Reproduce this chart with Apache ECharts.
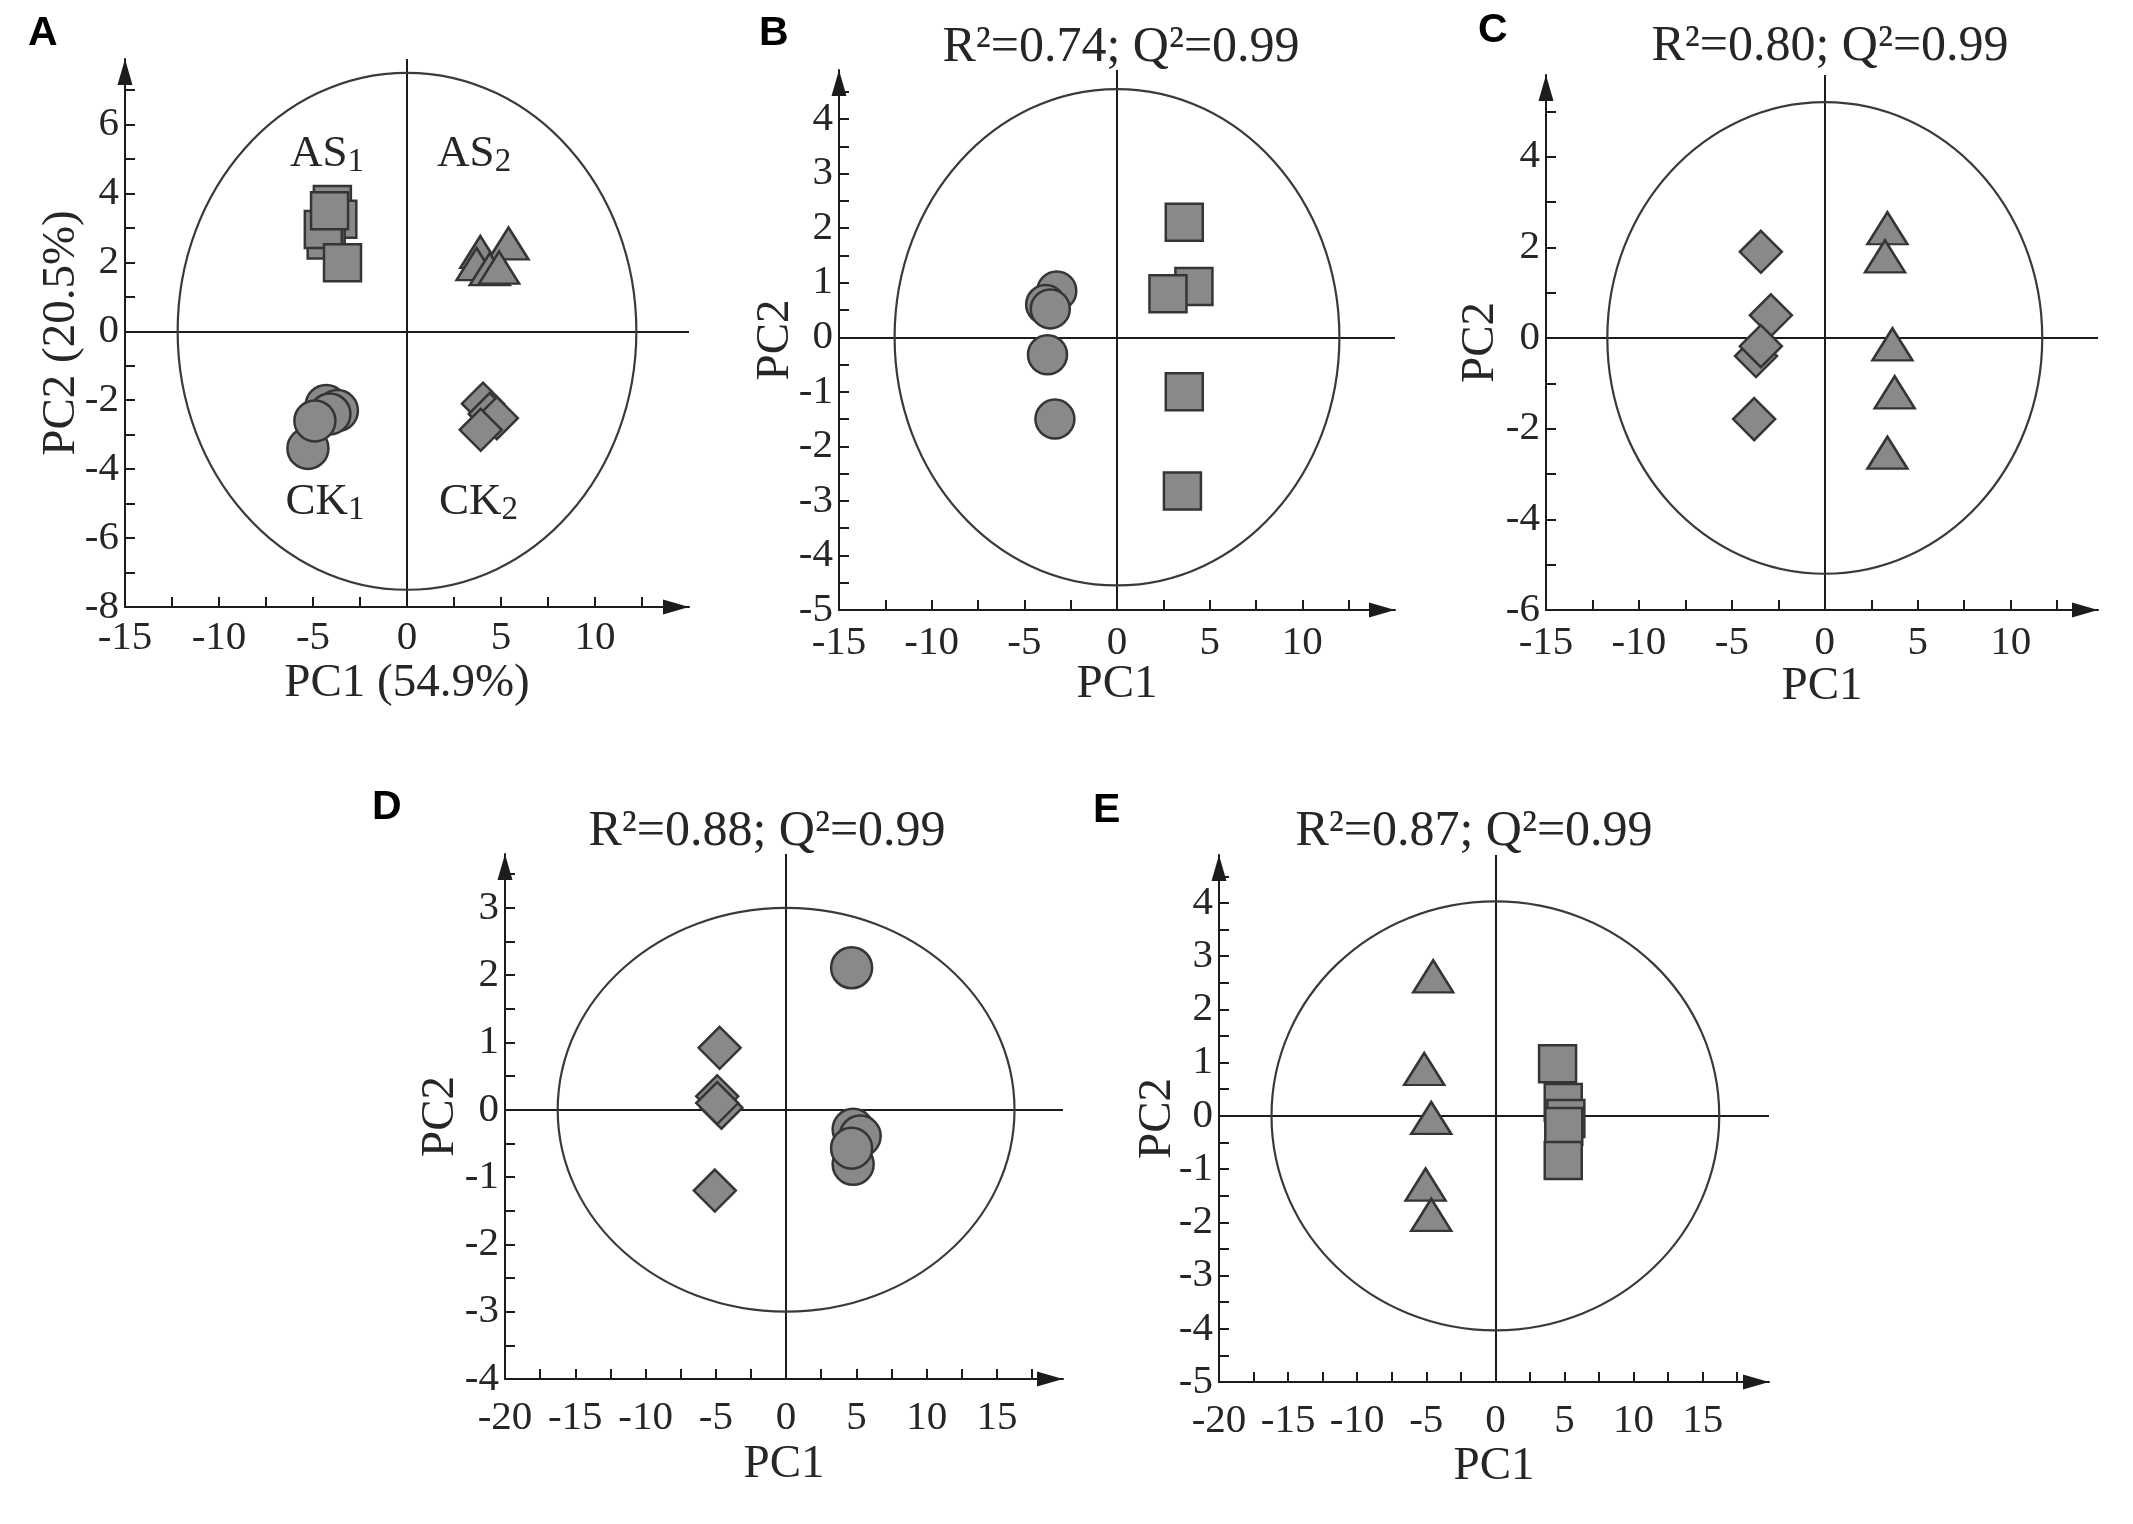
<!DOCTYPE html>
<html><head><meta charset="utf-8">
<script src="https://cdn.jsdelivr.net/npm/echarts@6/dist/echarts.min.js"></script>
<style>html,body{margin:0;padding:0;background:#fff}#c{width:2133px;height:1524px}</style>
</head><body><div id="c"></div>
<script>
// ---------- Panel A (PCA) ----------
const A_AS1 = [[-3.97,3.68],[-3.68,3.25],[-4.3,2.65],[-4.45,2.95],[-3.43,1.99],[-4.12,3.5]];
const A_AS2 = [[3.9,2.3],[5.4,2.55],[3.7,1.95],[4.4,1.8],[4.9,1.85]];
const A_CK1 = [[-4.3,-2.15],[-3.7,-2.3],[-4.1,-2.4],[-5.27,-3.4],[-4.9,-2.6]];
const A_CK2 = [[4.04,-2.1],[4.4,-2.4],[4.78,-2.52],[3.92,-2.86]];
const A_labelText = ['AS','AS','CK','CK'];
const A_labelSub = ['1','2','1','2'];
const A_labelPos = [[-4.26,5.15],[3.57,5.15],[-4.36,-4.95],[3.8,-4.95]];
// ---------- Panel B ----------
const B_circles = [[-3.25,0.85],[-3.85,0.6],[-3.6,0.52],[-3.75,-0.32],[-3.35,-1.5]];
const B_squares = [[3.63,2.11],[4.15,0.93],[2.75,0.8],[3.63,-1.0],[3.53,-2.82]];
// ---------- Panel C ----------
const C_diamonds = [[-3.44,1.9],[-2.9,0.5],[-3.7,-0.4],[-3.44,-0.18],[-3.8,-1.79]];
const C_triangles = [[3.37,2.42],[3.24,1.8],[3.64,-0.14],[3.76,-1.2],[3.37,-2.53]];
// ---------- Panel D ----------
const D_diamonds = [[-4.73,0.92],[-4.9,0.2],[-4.6,0.03],[-4.9,0.1],[-5.07,-1.2]];
const D_circles = [[4.66,2.11],[4.77,-0.29],[5.27,-0.39],[4.77,-0.81],[4.66,-0.57]];
// ---------- Panel E ----------
const E_triangles = [[-4.5,2.62],[-5.15,0.88],[-4.64,-0.04],[-5.05,-1.29],[-4.64,-1.86]];
const E_squares = [[4.5,0.98],[4.91,0.25],[5.1,-0.05],[4.95,-0.2],[4.91,-0.84]];
// ---------- texts / ticks ----------
const panelLetters = ['A','B','C','D','E'];
const panelStats = ['', 'R²=0.74; Q²=0.99', 'R²=0.80; Q²=0.99', 'R²=0.88; Q²=0.99', 'R²=0.87; Q²=0.99'];
const A_xLabels = [-15,-10,-5,0,5,10];
const A_yLabels = [-8,-6,-4,-2,0,2,4,6];
const B_xLabels = [-15,-10,-5,0,5,10];
const B_yLabels = [-5,-4,-3,-2,-1,0,1,2,3,4];
const C_xLabels = [-15,-10,-5,0,5,10];
const C_yLabels = [-6,-4,-2,0,2,4];
const D_xLabels = [-20,-15,-10,-5,0,5,10,15];
const D_yLabels = [-4,-3,-2,-1,0,1,2,3];
const E_xLabels = [-20,-15,-10,-5,0,5,10,15];
const E_yLabels = [-5,-4,-3,-2,-1,0,1,2,3,4];
const xNames = ['PC1 (54.9%)','PC1','PC1','PC1','PC1'];
const yNames = ['PC2 (20.5%)','PC2','PC2','PC2','PC2'];
const ellipseRx = [12.2, 12.0, 11.7, 16.25, 16.2];
const ellipseRy = [7.5, 4.55, 5.2, 3.0, 4.03];

const SERIF = 'Liberation Serif';
const SANS = 'Liberation Sans';
const TXT = '#262626';
const LINE = '#1c1c1c';

const panels = [
  {grid:{left:125,top:59,width:564,height:548}, x:[-15,15], y:[-8,7.9], xl:A_xLabels, yl:A_yLabels, xs:2.5, ys:1,
   groups:[[A_AS1,'rect',37],[A_AS2,'triangle',[40,32]],[A_CK1,'circle',41],[A_CK2,'diamond',42]],
   letter:[28,34], stat:null, xGap:53, yGap:40, xMargin:11},
  {grid:{left:839,top:70,width:556,height:540}, x:[-15,15], y:[-5,4.9], xl:B_xLabels, yl:B_yLabels, xs:2.5, ys:0.5,
   groups:[[B_circles,'circle',39],[B_squares,'rect',37]],
   letter:[759,34], stat:[1121,48], xGap:51, yGap:40, xMargin:13},
  {grid:{left:1546,top:75,width:552,height:535}, x:[-15,14.7], y:[-6,5.8], xl:C_xLabels, yl:C_yLabels, xs:2.5, ys:1,
   groups:[[C_diamonds,'diamond',42],[C_triangles,'triangle',[40,32]]],
   letter:[1478,31], stat:[1830,47], xGap:53, yGap:42, xMargin:13},
  {grid:{left:505,top:854,width:558,height:525}, x:[-20,19.7], y:[-4,3.8], xl:D_xLabels, yl:D_yLabels, xs:2.5, ys:0.5,
   groups:[[D_diamonds,'diamond',42],[D_circles,'circle',41]],
   letter:[372,808], stat:[767,832], xGap:62, yGap:41, xMargin:19},
  {grid:{left:1219,top:855,width:550,height:527}, x:[-20,19.8], y:[-5,4.9], xl:E_xLabels, yl:E_yLabels, xs:2.5, ys:0.5,
   groups:[[E_triangles,'triangle',[40,32]],[E_squares,'rect',37]],
   letter:[1093,811], stat:[1474,832], xGap:61, yGap:38, xMargin:19}
];

function ticks(min, max, step) {
  const out = [];
  const n = Math.floor((max - 0.25 - min) / step + 1e-9);
  for (let k = 0; k <= n; k++) out.push(+(min + k * step).toFixed(4));
  return out;
}

const grids = [], xAxes = [], yAxes = [], series = [], graphics = [];

panels.forEach((p, i) => {
  grids.push(Object.assign({outerBoundsMode:'none', containLabel:false, show:false}, p.grid));
  const common = (isX) => ({
    type:'value', gridIndex:i,
    min: isX ? p.x[0] : p.y[0], max: isX ? p.x[1] : p.y[1],
    name: isX ? xNames[i] : yNames[i], nameLocation:'middle', nameGap: isX ? p.xGap : p.yGap,
    nameMoveOverlap:false,
    nameTextStyle:{fontFamily:SERIF, fontSize:47, color:TXT},
    axisLine:{show:true, onZero:false, symbol:['none','triangle'], symbolSize:[15,26], symbolOffset:[0,-13],
      lineStyle:{color:LINE, width:2}},
    axisTick:{show:true, inside:true, length:10,
      customValues: isX ? ticks(p.x[0], p.x[1], p.xs) : ticks(p.y[0], p.y[1], p.ys),
      lineStyle:{color:LINE, width:2}},
    axisLabel:{show:true, customValues: isX ? p.xl : p.yl, margin: isX ? p.xMargin : 6,
      fontFamily:SERIF, fontSize:41, color:TXT, hideOverlap:false},
    splitLine:{show:false}, minorTick:{show:false}
  });
  xAxes.push(common(true));
  yAxes.push(common(false));

  // confidence ellipse + zero lines
  series.push({
    type:'custom', xAxisIndex:i, yAxisIndex:i, silent:true, clip:false, z:2,
    encode:{x:0, y:1},
    data:[[0, 0, ellipseRx[i], ellipseRy[i]]],
    renderItem:(params, api) => {
      const c = api.coord([api.value(0), api.value(1)]);
      const s = api.size([api.value(2), api.value(3)]);
      return {type:'ellipse', shape:{cx:c[0], cy:c[1], rx:s[0], ry:s[1]},
        style:{fill:'none', stroke:'#3a3a3a', lineWidth:2.2}};
    },
    markLine:{silent:true, z:1, symbol:['none','none'], label:{show:false}, animation:false,
      lineStyle:{color:LINE, width:2, type:'solid'},
      data:[{xAxis:0},{yAxis:0}]}
  });

  p.groups.forEach(g => {
    series.push({
      type:'scatter', xAxisIndex:i, yAxisIndex:i, silent:true, z:3,
      data:g[0], symbol:g[1], symbolSize:g[2],
      itemStyle:{color:'#898989', borderColor:'#353535', borderWidth:2.5, opacity:1}
    });
  });

  graphics.push({type:'text', x:p.letter[0], y:p.letter[1],
    style:{text:panelLetters[i], font:'bold 41px "' + SANS + '"', fill:'#000', textAlign:'left', textVerticalAlign:'middle'}});
  if (p.stat) {
    graphics.push({type:'text', x:p.stat[0], y:p.stat[1],
      style:{text:panelStats[i], font:'50px "' + SERIF + '"', fill:TXT, textAlign:'center', textVerticalAlign:'middle'}});
  }
});

// group labels in panel A
series.push({
  type:'scatter', xAxisIndex:0, yAxisIndex:0, silent:true, z:4,
  data:A_labelPos, symbolSize:2, itemStyle:{color:'rgba(255,255,255,0)', borderWidth:0},
  label:{show:true, position:'inside', opacity:1,
    formatter:(p) => '{a|' + A_labelText[p.dataIndex] + '}{s|' + A_labelSub[p.dataIndex] + '}',
    rich:{
      a:{fontFamily:SERIF, fontSize:45, color:TXT, lineHeight:50},
      s:{fontFamily:SERIF, fontSize:33, color:TXT, lineHeight:29, verticalAlign:'bottom'}
    }}
});

const chart = echarts.init(document.getElementById('c'), null, {renderer:'canvas'});
chart.setOption({
  animation:false,
  backgroundColor:'#ffffff',
  grid:grids, xAxis:xAxes, yAxis:yAxes, series:series,
  graphic:graphics
});
</script></body></html>
